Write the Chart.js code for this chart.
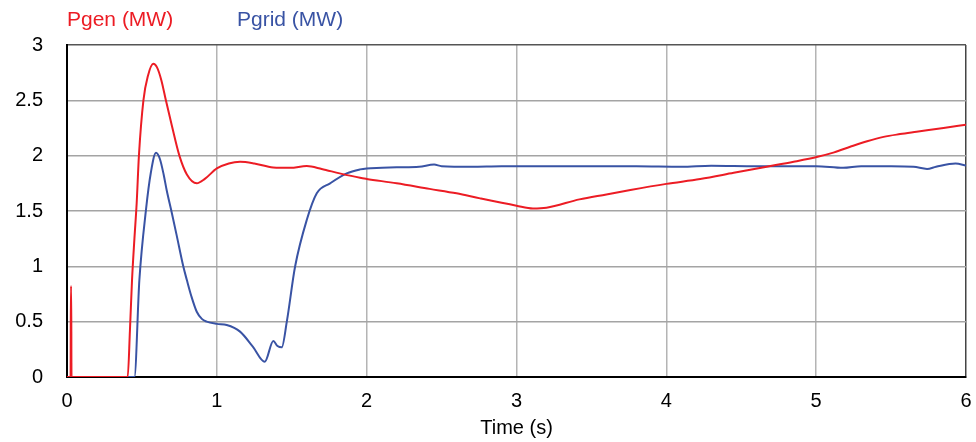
<!DOCTYPE html>
<html>
<head>
<meta charset="utf-8">
<script src="https://cdn.jsdelivr.net/npm/chart.js@4/dist/chart.umd.min.js"></script>
<style>
  body { margin: 0; background: #fff; }
  #wrap { width: 976px; height: 442px; }
</style>
</head>
<body>
<div id="wrap"><canvas id="powerChart" width="976" height="442"></canvas></div>
<script>
// series names
const seriesNames = ['Pgen (MW)', 'Pgrid (MW)'];

// Pgen: time (s) and power (MW)
const pgenTime = [0, 0.024, 0.026, 0.028, 0.03, 0.405, 0.42, 0.434, 0.45, 0.465, 0.48, 0.51, 0.54, 0.576, 0.60, 0.63, 0.66, 0.70, 0.75, 0.80, 0.866, 0.92, 1.0, 1.08, 1.155, 1.25, 1.376, 1.49, 1.6, 1.7, 1.82, 1.956, 2.0, 2.2, 2.42, 2.6, 2.757, 3.0, 3.11, 3.2, 3.42, 3.6, 3.76, 4.0, 4.226, 4.45, 4.67, 4.85, 5.01, 5.12, 5.227, 5.34, 5.45, 5.56, 5.67, 5.85, 6.0];
const pgenValues = [0, 0, 0.82, 0.82, 0, 0, 0.42, 0.876, 1.25, 1.57, 2.0, 2.5, 2.72, 2.83, 2.8, 2.68, 2.5, 2.27, 2.0, 1.83, 1.75, 1.79, 1.885, 1.93, 1.945, 1.93, 1.894, 1.89, 1.906, 1.88, 1.84, 1.80, 1.79, 1.75, 1.70, 1.66, 1.614, 1.548, 1.523, 1.53, 1.605, 1.65, 1.69, 1.745, 1.789, 1.845, 1.90, 1.945, 1.99, 2.03, 2.08, 2.13, 2.17, 2.195, 2.216, 2.25, 2.28];

// Pgrid
const pgridTime = [0, 0.45, 0.483, 0.527, 0.56, 0.594, 0.62, 0.645, 0.665, 0.70, 0.732, 0.776, 0.8, 0.83, 0.866, 0.9, 0.932, 1.0, 1.066, 1.155, 1.24, 1.32, 1.377, 1.405, 1.433, 1.467, 1.522, 1.6, 1.667, 1.756, 1.867, 1.956, 2.0, 2.2, 2.35, 2.45, 2.5, 2.7, 2.9, 3.2, 3.5, 3.8, 4.1, 4.3, 4.6, 4.9, 5.0, 5.18, 5.3, 5.5, 5.65, 5.74, 5.8, 5.93, 6.0];
const pgridValues = [0, 0, 0.876, 1.51, 1.85, 2.026, 1.97, 1.83, 1.69, 1.48, 1.28, 1.0, 0.876, 0.73, 0.59, 0.525, 0.50, 0.48, 0.47, 0.41, 0.275, 0.138, 0.325, 0.28, 0.268, 0.50, 0.996, 1.418, 1.66, 1.75, 1.84, 1.876, 1.885, 1.895, 1.90, 1.92, 1.905, 1.90, 1.905, 1.905, 1.905, 1.905, 1.90, 1.91, 1.905, 1.905, 1.905, 1.89, 1.905, 1.905, 1.90, 1.88, 1.90, 1.93, 1.91];

const seriesColors = ['#ec1c24', '#3953a4'];

const toPoints = (xs, ys) => xs.map((x, i) => ({ x: x, y: ys[i] }));

Chart.defaults.font.family = "'Liberation Sans', Arial, sans-serif";
Chart.defaults.color = '#000';

// legend drawn as plain coloured text above the plot
const textLegend = {
    id: 'textLegend',
    afterDraw(chart) {
        const ctx = chart.ctx;
        ctx.save();
        ctx.font = "21px 'Liberation Sans', Arial, sans-serif";
        ctx.textBaseline = 'middle';
        ctx.textAlign = 'left';
        const xs = [chart.chartArea.left, chart.chartArea.left + 170];
        seriesNames.forEach((name, i) => {
            ctx.fillStyle = seriesColors[i];
            ctx.fillText(name, xs[i], 20);
        });
        ctx.restore();
    }
};

new Chart(document.getElementById('powerChart'), {
    type: 'line',
    data: {
        datasets: [
            {
                label: seriesNames[0],
                data: toPoints(pgenTime, pgenValues),
                borderColor: seriesColors[0],
                borderWidth: 2,
                pointRadius: 0,
                cubicInterpolationMode: 'monotone'
            },
            {
                label: seriesNames[1],
                data: toPoints(pgridTime, pgridValues),
                borderColor: seriesColors[1],
                borderWidth: 2,
                pointRadius: 0,
                cubicInterpolationMode: 'monotone'
            }
        ]
    },
    options: {
        responsive: false,
        animation: false,
        layout: { padding: { top: 45, right: 10, left: 0, bottom: 0 } },
        plugins: {
            legend: { display: false },
            tooltip: { enabled: false }
        },
        scales: {
            x: {
                type: 'linear',
                min: 0,
                max: 6,
                afterFit: (axis) => {
                    axis.height = 65;
                    axis.paddingRight = 0;
                    axis.paddingLeft = 0;
                },
                ticks: { stepSize: 1, padding: 12, font: { size: 20 } },
                grid: {
                    drawTicks: false,
                    lineWidth: 1.5,
                    color: (c) => c.tick && c.tick.value === 6 ? '#444' : '#b4b4b4'
                },
                border: { color: '#000', width: 2 },
                title: {
                    display: true,
                    text: 'Time (s)',
                    font: { size: 20 },
                    padding: { top: 0, bottom: 2 }
                }
            },
            y: {
                min: 0,
                max: 3,
                afterFit: (axis) => { axis.width = 67; },
                ticks: {
                    stepSize: 0.5,
                    padding: 24,
                    font: { size: 20 },
                    callback: (v) => String(v)
                },
                grid: {
                    drawTicks: false,
                    lineWidth: 1.5,
                    color: (c) => c.tick && c.tick.value === 3 ? '#555' : '#a4a4a4'
                },
                border: { color: '#000', width: 2 }
            }
        }
    },
    plugins: [textLegend]
});
</script>
</body>
</html>
